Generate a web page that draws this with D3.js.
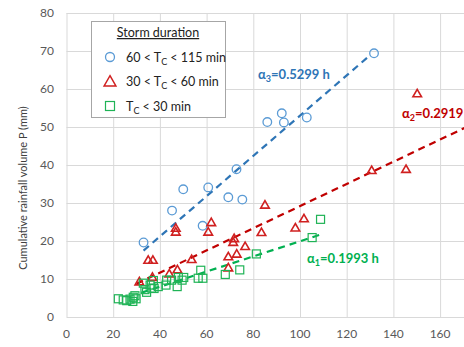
<!DOCTYPE html>
<html>
<head>
<meta charset="utf-8">
<script src="https://cdn.jsdelivr.net/npm/d3@7"></script>
<style>
  body { margin: 0; background: #fff; }
  text { font-family: Lato, "Open Sans", sans-serif; }
</style>
</head>
<body>
<div id="chart"></div>
<script>
var w = 464;
var h = 347;

// Points: [x, P (mm)]
var longStorms = [[33, 19.6], [45.2, 28], [50, 33.6], [58.3, 24], [60.7, 34.1], [69.3, 31.5],
  [72.8, 38.9], [75.3, 30.9], [86, 51.3], [92.2, 53.6], [93.1, 51.2], [102.9, 52.5], [131.7, 69.4]];
var midStorms = [[31.2, 9.1], [35, 14.8], [37, 14.8], [36.8, 10.3], [44, 11.2], [46.8, 22.2],
  [46.8, 23.2], [47.5, 12.3], [53.6, 15], [60.7, 22.2], [62, 24.7], [69.3, 12.8], [69.3, 15.7],
  [71.4, 19.5], [71.8, 20.5], [72.9, 16.4], [76.5, 18.4], [83.5, 22.1], [85, 29.3], [98, 23.3],
  [101.7, 25.7], [130.7, 38.4], [145.4, 38.7], [150.2, 58.6]];
var shortStorms = [[22.2, 4.8], [24.3, 4.5], [25.8, 4.3], [27.2, 4.7], [28.4, 4.1], [28.6, 5.2],
  [29.3, 5.6], [29.8, 4.8], [32.9, 8.9], [33.6, 7.2], [34.3, 6.5], [35.8, 8.4], [36.5, 7.6],
  [37.2, 9.6], [37.5, 7.5], [39.3, 8], [42.6, 8.4], [42.9, 9.7], [45, 9.7], [47.4, 8],
  [47.9, 10.4], [49.5, 9.7], [50.2, 10.4], [56.4, 10.2], [57.5, 12.3], [58.4, 10.2], [68, 11.2],
  [74.2, 12.4], [81.3, 16.6], [105.2, 20.9], [108.8, 25.7]];

// fitted slopes (lines through the origin) and their drawn x extent
var slopes = [0.1993, 0.2919, 0.5299];
var lineRanges = [[32, 109], [30, 185], [33, 130]];

var xTicks = [0, 20, 40, 60, 80, 100, 120, 140, 160, 180];
var yTicks = [0, 10, 20, 30, 40, 50, 60, 70, 80];

var blue = "#2e75b6", red = "#c00000", green = "#00b050";

var svg = d3.select("#chart")
  .append("svg")
  .attr("width", w)
  .attr("height", h);

var x = d3.scaleLinear().domain([0, 180]).range([66.5, 66.5 + 180 * 2.335]);
var y = d3.scaleLinear().domain([0, 80]).range([317, 13]);

// grid
svg.append("g")
  .attr("transform", "translate(0,317)")
  .call(d3.axisBottom(x).tickValues(xTicks).tickSize(-304).tickFormat(""))
  .call(function(g) { g.select(".domain").remove(); })
  .selectAll("line").attr("stroke", "#d9d9d9");

svg.append("g")
  .attr("transform", "translate(66.5,0)")
  .call(d3.axisLeft(y).tickValues(yTicks).tickSize(-420).tickFormat(""))
  .call(function(g) { g.select(".domain").remove(); })
  .selectAll("line").attr("stroke", "#d9d9d9");

// tick labels
svg.append("g").selectAll("text")
  .data(xTicks.slice(0, 9))
  .enter().append("text")
  .attr("x", function(d) { return x(d); })
  .attr("y", 338)
  .attr("text-anchor", "middle")
  .attr("font-size", 12)
  .attr("fill", "#595959")
  .text(function(d) { return d; });

svg.append("g").selectAll("text")
  .data(yTicks)
  .enter().append("text")
  .attr("x", 54)
  .attr("y", function(d) { return y(d) + 4; })
  .attr("text-anchor", "end")
  .attr("font-size", 12)
  .attr("fill", "#595959")
  .text(function(d) { return d; });

svg.append("text")
  .attr("transform", "translate(27,188) rotate(-90)")
  .attr("text-anchor", "middle")
  .attr("font-size", 11)
  .attr("fill", "#404040")
  .text("Cumulative rainfall volume P (mm)");

// trend lines
var colors = [green, red, blue];
slopes.forEach(function(a, i) {
  var r = lineRanges[i];
  svg.append("line")
    .attr("x1", x(r[0])).attr("y1", y(a * r[0]))
    .attr("x2", x(r[1])).attr("y2", y(a * r[1]))
    .attr("stroke", colors[i])
    .attr("stroke-width", 2.2)
    .attr("stroke-dasharray", "7,5");
});

// markers
svg.append("g").selectAll("circle")
  .data(longStorms)
  .enter().append("circle")
  .attr("cx", function(d) { return x(d[0]); })
  .attr("cy", function(d) { return y(d[1]); })
  .attr("r", 4.3)
  .attr("fill", "none")
  .attr("stroke", "#5b9bd5")
  .attr("stroke-width", 1.3);

var tri = d3.symbol().type(d3.symbolTriangle).size(32);
svg.append("g").selectAll("path")
  .data(midStorms)
  .enter().append("path")
  .attr("d", tri)
  .attr("transform", function(d) { return "translate(" + x(d[0]) + "," + y(d[1]) + ")"; })
  .attr("fill", "none")
  .attr("stroke", "#d02020")
  .attr("stroke-width", 1.6);

svg.append("g").selectAll("rect")
  .data(shortStorms)
  .enter().append("rect")
  .attr("x", function(d) { return x(d[0]) - 4; })
  .attr("y", function(d) { return y(d[1]) - 4; })
  .attr("width", 8)
  .attr("height", 8)
  .attr("fill", "none")
  .attr("stroke", "#1fb356")
  .attr("stroke-width", 1.2);

// slope labels (the red one runs off the right edge, as in the original)
function alphaLabel(px, py, idx, val, col) {
  var t = svg.append("text")
    .attr("x", px).attr("y", py)
    .attr("font-size", 13)
    .attr("font-weight", "bold")
    .attr("fill", col);
  t.append("tspan").text("\u03b1");
  t.append("tspan").attr("font-size", 9).attr("dy", 3).text(idx);
  t.append("tspan").attr("dy", -3).text("=" + val + " h");
}
alphaLabel(258, 79, "3", "0.5299", blue);
alphaLabel(402, 118, "2", "0.2919", red);
alphaLabel(307, 263, "1", "0.1993", green);

// legend
var lg = svg.append("g");
lg.append("rect")
  .attr("x", 91.5).attr("y", 21.5)
  .attr("width", 134).attr("height", 96)
  .attr("fill", "#fff")
  .attr("stroke", "#a6a6a6");
lg.append("text")
  .attr("x", 158).attr("y", 37)
  .attr("text-anchor", "middle")
  .attr("font-size", 12.5)
  .attr("fill", "#222")
  .attr("text-decoration", "underline")
  .text("Storm duration");

var legendRows = [
  { lo: "60 < ", hi: " < 115 min" },
  { lo: "30 < ", hi: " < 60 min" },
  { lo: "", hi: " < 30 min" }
];
legendRows.forEach(function(r, i) {
  var cy = 57 + i * 24.5;
  if (i === 0) {
    lg.append("circle").attr("cx", 110).attr("cy", cy).attr("r", 4.5)
      .attr("fill", "none").attr("stroke", "#5b9bd5").attr("stroke-width", 1.3);
  } else if (i === 1) {
    lg.append("path").attr("d", d3.symbol().type(d3.symbolTriangle).size(60))
      .attr("transform", "translate(110," + (cy + 1) + ")")
      .attr("fill", "none").attr("stroke", "#d02020").attr("stroke-width", 1.5);
  } else {
    lg.append("rect").attr("x", 105.5).attr("y", cy - 4.5).attr("width", 9).attr("height", 9)
      .attr("fill", "none").attr("stroke", "#1fb356").attr("stroke-width", 1.2);
  }
  var t = lg.append("text")
    .attr("x", 126).attr("y", cy + 4.5)
    .attr("font-size", 12.5)
    .attr("fill", "#222");
  t.append("tspan").text(r.lo + "T");
  t.append("tspan").attr("font-size", 9).attr("dy", 3).text("C");
  t.append("tspan").attr("dy", -3).text(r.hi);
});
</script>
</body>
</html>
